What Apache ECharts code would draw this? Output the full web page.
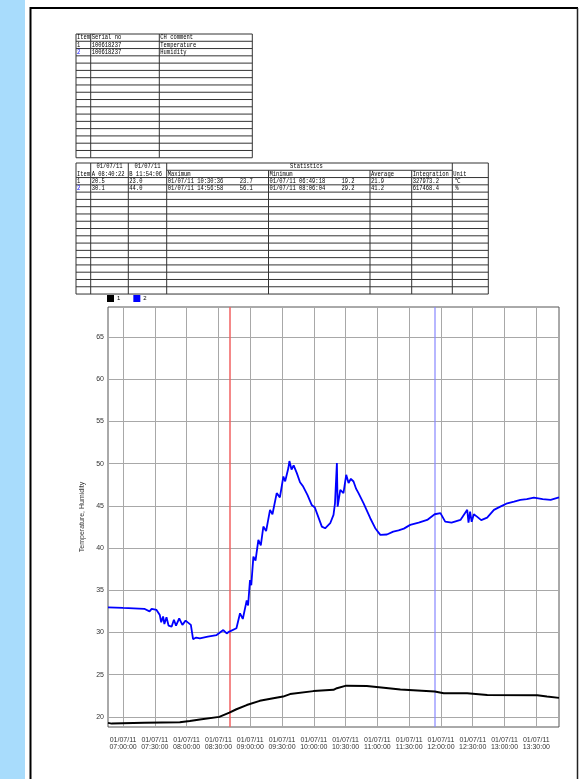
<!DOCTYPE html>
<html><head><meta charset="utf-8">
<script src="https://cdn.jsdelivr.net/npm/echarts@6/dist/echarts.min.js"></script>
<style>html,body{margin:0;padding:0;background:#fff}#c{width:585px;height:779px}</style>
</head><body><div id="c"></div>
<script>
// ---------------- data ----------------
const dateLabel = '01/07/11';
const tickTimes = ['07:00:00','07:30:00','08:00:00','08:30:00','09:00:00','09:30:00','10:00:00','10:30:00','11:00:00','11:30:00','12:00:00','12:30:00','13:00:00','13:30:00'];
const yTicks = [20,25,30,35,40,45,50,55,60,65];
const axisStart = '06:45:48';
const axisEnd = '13:51:24';
const cursorA = '08:40:22';
const cursorB = '11:54:06';

const tempTimes = ['06:45:48','06:49:18','07:20:00','07:53:36','08:03:00','08:12:30','08:30:48','08:40:22','08:47:00','08:56:42','09:09:00','09:21:48','09:31:00','09:37:36','09:59:42','10:18:36','10:21:48','10:30:36','10:50:00','11:06:00','11:21:42','11:54:06','12:02:36','12:24:42','12:43:42','13:31:00','13:40:00','13:51:24'];
const tempValues = [19.29,19.2,19.3,19.37,19.5,19.7,20.0,20.5,20.9,21.4,21.9,22.2,22.4,22.7,23.05,23.2,23.4,23.7,23.65,23.45,23.25,23.0,22.8,22.8,22.6,22.55,22.4,22.25];

const humTimes = ['06:45:48','07:00:00','07:20:00','07:25:00','07:27:00','07:31:36','07:34:42','07:36:00','07:37:48','07:39:00','07:41:00','07:43:00','07:45:48','07:48:00','07:50:00','07:53:00','07:56:00','07:59:00','08:04:00','08:06:04','08:09:00','08:12:30','08:20:00','08:28:18','08:34:36','08:37:48','08:40:22','08:47:00','08:50:24','08:53:00','08:56:42','08:58:00','08:59:48','09:01:00','09:03:00','09:05:00','09:07:42','09:10:00','09:12:24','09:15:00','09:18:42','09:21:00','09:25:00','09:28:00','09:31:18','09:33:00','09:36:00','09:37:00','09:39:00','09:41:00','09:44:00','09:47:00','09:50:00','09:54:00','09:58:00','10:01:00','10:03:00','10:07:36','10:10:42','10:15:30','10:18:36','10:20:00','10:21:48','10:22:30','10:25:00','10:28:00','10:30:36','10:32:48','10:35:00','10:37:30','10:40:00','10:42:12','10:47:00','10:53:18','10:58:00','11:02:48','11:09:00','11:15:00','11:20:00','11:25:00','11:31:00','11:39:00','11:47:00','11:54:06','11:59:30','12:04:00','12:10:00','12:18:24','12:24:48','12:26:00','12:27:30','12:29:00','12:31:00','12:34:00','12:38:00','12:43:36','12:50:00','12:56:00','13:02:36','13:09:00','13:15:00','13:21:00','13:27:42','13:36:00','13:43:30','13:51:24'];
const humValues = [32.98,32.9,32.8,32.5,32.8,32.66,32.06,31.2,31.9,31.0,31.8,30.8,30.68,31.5,30.8,31.67,30.9,31.4,30.9,29.2,29.4,29.3,29.5,29.69,30.28,29.89,30.1,30.5,32.27,31.6,33.8,33.2,36.2,35.6,38.98,38.5,40.96,40.3,42.54,42.0,44.52,44.0,46.5,46.0,48.47,47.9,49.47,50.3,49.3,49.8,48.87,47.8,47.28,46.3,45.1,44.8,44.1,42.54,42.34,42.94,43.93,45.3,50.06,44.9,46.9,46.5,48.67,47.7,48.2,47.88,47.0,46.5,45.3,43.53,42.35,41.56,41.6,41.95,42.1,42.3,42.74,43.0,43.33,44.0,44.13,43.13,43.0,43.33,44.52,43.0,44.3,43.1,44.0,43.72,43.3,43.6,44.52,44.9,45.3,45.5,45.7,45.8,45.98,45.8,45.7,46.0];

const table1Header = ['Item','Serial no','CH comment'];
const table1Rows = [['1','100618237','Temperature'],['2','100618237','Humidity']];
const table2Dates = ['01/07/11','01/07/11'];
const table2Header = ['Item','A 08:40:22','B 11:54:06','Maximum','Minimum','Average','Integration','Unit'];
const table2Rows = [
  ['1','20.5','23.0','01/07/11 10:30:36','23.7','01/07/11 06:49:18','19.2','21.9','327973.2','℃'],
  ['2','30.1','44.0','01/07/11 14:56:58','56.1','01/07/11 08:06:04','29.2','41.2','617468.4','%']
];
const seriesNames = ['1','2'];
const seriesColors = ['#000000','#0000ff'];

// ---------------- helpers ----------------
function toMin(t){const p=t.split(':').map(Number);return (p[0]-7)*60+p[1]+p[2]/60;}
function fmt(m){const s=Math.round((m+420)*60);const h=Math.floor(s/3600),mi=Math.floor(s%3600/60),se=s%60;const z=n=>String(n).padStart(2,'0');return z(h)+':'+z(mi)+':'+z(se);}
const tempData = tempTimes.map((t,i)=>[toMin(t),tempValues[i]]);
const humData = humTimes.map((t,i)=>[toMin(t),humValues[i]]);
const tickVals = tickTimes.map(toMin);

// ---------------- tables ----------------
const G = [];
const LINE = '#333';
const TFONT = '7px "Liberation Mono", "DejaVu Sans Mono", monospace';
function hl(x1,x2,y,c){G.push({type:'line',silent:true,shape:{x1,y1:y,x2,y2:y},style:{stroke:c||LINE,lineWidth:1}});}
function vl(x,y1,y2,c){G.push({type:'line',silent:true,shape:{x1:x,y1,x2:x,y2},style:{stroke:c||LINE,lineWidth:1}});}
function tx(x,y,s,color,align){G.push({type:'text',silent:true,x:x,y:y,scaleX:0.78,style:{text:s,x:0,y:0,fill:color||'#000',font:TFONT,textAlign:align||'left',textVerticalAlign:'middle'}});}

// page background: blue strip and frame
G.push({type:'rect',silent:true,shape:{x:0,y:0,width:25,height:779},style:{fill:'#a8dcfc'}});
G.push({type:'line',silent:true,shape:{x1:30.5,y1:7,x2:30.5,y2:779},style:{stroke:'#000',lineWidth:2}});
G.push({type:'line',silent:true,shape:{x1:30,y1:8,x2:578,y2:8},style:{stroke:'#000',lineWidth:2}});
G.push({type:'line',silent:true,shape:{x1:577.5,y1:8,x2:577.5,y2:779},style:{stroke:'#222',lineWidth:1.5}});

// table 1
(function(){
  const cx=[76,90.7,159.3,252.3], top=34, rh=7.28, n=17;
  const bottom=top+n*rh;
  for(let i=0;i<=n;i++) hl(cx[0],cx[3],top+i*rh);
  cx.forEach(x=>vl(x,top,bottom));
  table1Header.forEach((s,j)=>tx(cx[j]+1,top+rh/2,s));
  table1Rows.forEach((r,i)=>r.forEach((s,j)=>tx(cx[j]+1,top+(i+1.5)*rh,s,(j===0&&i===1)?'#0000ff':'#000')));
})();

// table 2
(function(){
  const cx=[76,90.7,128.3,166.7,268.5,370,411.7,452.3,488.3], top=163, rh=7.28, n=18;
  const bottom=top+n*rh;
  hl(cx[0],cx[8],top);
  hl(cx[3],cx[7],top+rh);
  for(let i=2;i<=n;i++) hl(cx[0],cx[8],top+i*rh);
  [0,1,2,3,7,8].forEach(k=>vl(cx[k],top,bottom));
  [4,5,6].forEach(k=>vl(cx[k],top+rh,bottom));
  tx((cx[1]+cx[2])/2,top+rh/2,table2Dates[0],'#000','center');
  tx((cx[2]+cx[3])/2,top+rh/2,table2Dates[1],'#000','center');
  tx((cx[3]+cx[7])/2-3,top+rh/2,'Statistics','#000','center');
  table2Header.forEach((s,j)=>tx(cx[j]+1,top+1.5*rh,s));
  table2Rows.forEach((r,i)=>{
    const y=top+(i+2.5)*rh;
    const col=(i===1)?'#0000ff':'#000';
    tx(cx[0]+1,y,r[0],col);
    tx(cx[1]+1,y,r[1]);
    tx(cx[2]+1,y,r[2]);
    tx(cx[3]+1,y,r[3]);
    tx(cx[3]+73,y,r[4]);
    tx(cx[4]+1,y,r[5]);
    tx(cx[4]+73,y,r[6]);
    tx(cx[5]+1,y,r[7]);
    tx(cx[6]+1,y,r[8]);
    tx(cx[7]+3,y,r[9]);
  });
})();

// ---------------- chart ----------------
const chart = echarts.init(document.getElementById('c'), null, {renderer:'canvas'});
chart.setOption({
  animation:false,
  backgroundColor:'#fff',
  graphic:G,
  legend:{left:107,top:295,padding:0,itemWidth:7,itemHeight:7,itemGap:13,itemStyle:{borderWidth:0},
    textStyle:{fontSize:6,color:'#000',fontFamily:'Liberation Sans',padding:[0,0,0,-2]},icon:'rect',
    data:seriesNames},
  grid:{left:108,top:307,right:26,bottom:52,show:true,borderColor:'#555',borderWidth:1,containLabel:false},
  xAxis:{type:'value',min:toMin(axisStart),max:toMin(axisEnd),
    axisLine:{show:false},
    axisTick:{show:false,customValues:tickVals},
    splitLine:{show:true,lineStyle:{color:'#a8a8a8',width:1}},
    axisLabel:{customValues:tickVals,margin:9,fontSize:7,lineHeight:7.5,color:'#333',fontFamily:'Liberation Sans',
      formatter:v=>dateLabel+'\n'+fmt(v)}},
  yAxis:{type:'value',min:18.8,max:68.55,
    name:'Temperature, Humidity',nameLocation:'middle',nameGap:13,
    nameTextStyle:{fontSize:7,color:'#333',fontFamily:'Liberation Sans'},
    axisLine:{show:false},
    axisTick:{show:false,customValues:yTicks},
    splitLine:{show:true,lineStyle:{color:'#a8a8a8',width:1}},
    axisLabel:{customValues:yTicks,fontSize:7,color:'#333',margin:4,fontFamily:'Liberation Sans'}},
  series:[
    {name:seriesNames[0],type:'line',data:tempData,showSymbol:false,symbol:'none',color:seriesColors[0],
      lineStyle:{width:2,color:seriesColors[0]},z:3},
    {name:seriesNames[1],type:'line',data:humData,showSymbol:false,symbol:'none',color:seriesColors[1],
      lineStyle:{width:1.8,color:seriesColors[1]},z:4,
      markLine:{silent:true,symbol:'none',label:{show:false},z:2,
        data:[
          {xAxis:toMin(cursorA),lineStyle:{color:'#f06060',width:1.5,type:'solid',opacity:1}},
          {xAxis:toMin(cursorB),lineStyle:{color:'#8888ff',width:1.5,type:'solid',opacity:0.8}}
        ]}}
  ]
});
</script></body></html>
